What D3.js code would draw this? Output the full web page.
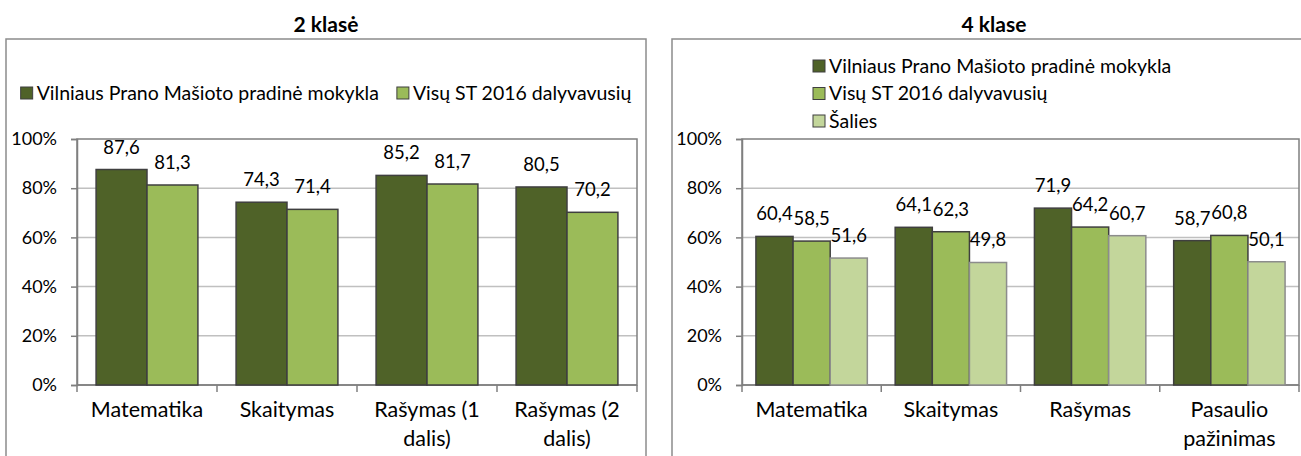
<!DOCTYPE html>
<html>
<head>
<meta charset="utf-8">
<script src="https://cdn.jsdelivr.net/npm/d3@7"></script>
<style>
  body { margin: 0; background: #fff; }
  svg { display: block; font-family: Lato, "Open Sans", sans-serif; }
</style>
</head>
<body>
<div id="svg_div"><svg width="1301" height="456"></svg></div>
<script>
// Chart data
var seriesNames = ["Vilniaus Prano Mašioto pradinė mokykla", "Visų ST 2016 dalyvavusių", "Šalies"];
var yTicks = [0, 20, 40, 60, 80, 100];

var title2 = "2 klasė";
var cats2 = ["Matematika", "Skaitymas", "Rašymas (1 dalis)", "Rašymas (2 dalis)"];
var school2 = [87.6, 74.3, 85.2, 80.5];
var all2 = [81.3, 71.4, 81.7, 70.2];

var title4 = "4 klase";
var cats4 = ["Matematika", "Skaitymas", "Rašymas", "Pasaulio pažinimas"];
var school4 = [60.4, 64.1, 71.9, 58.7];
var all4 = [58.5, 62.3, 64.2, 60.8];
var country4 = [51.6, 49.8, 60.7, 50.1];

var colors = ["#4f6228", "#9bbb59", "#c3d69b"];
var strokes = ["#3f3f3f", "#3f3f3f", "#8c8c8c"];

var svg = d3.select("#svg_div").select("svg");
svg.append("rect").attr("width", 1301).attr("height", 456).attr("fill", "#fff");

var ltLocale = d3.formatLocale({decimal: ",", thousands: " ", grouping: [3], currency: ["", ""]});
var valFormat = ltLocale.format(".1f");

// wrap category text into lines that fit the band
function wrap(text, width) {
    text.each(function() {
        var t = d3.select(this),
            words = t.text().split(/\s+/).reverse(),
            word, line = [], lineNo = 0,
            x = t.attr("x"), y = t.attr("y"),
            tspan = t.text(null).append("tspan").attr("x", x).attr("y", y);
        while ((word = words.pop())) {
            line.push(word);
            tspan.text(line.join(" "));
            if (tspan.node().getComputedTextLength() > width && line.length > 1) {
                line.pop();
                tspan.text(line.join(" "));
                line = [word];
                tspan = t.append("tspan").attr("x", x).attr("y", +y + (++lineNo) * 29).text(word);
            }
        }
    });
}

function drawPanel(opt) {
    var g = svg.append("g");

    // outer frame
    g.append("rect")
        .attr("x", opt.frame[0]).attr("y", 39)
        .attr("width", opt.frame[1] - opt.frame[0]).attr("height", 440)
        .attr("fill", "none").attr("stroke", "#8c8c8c").attr("stroke-width", 1.5);

    // title
    g.append("text")
        .attr("x", opt.titleX).attr("y", 32)
        .attr("text-anchor", "middle")
        .style("font-size", "21px").style("font-weight", "bold")
        .text(opt.title);

    var left = opt.plot[0], right = opt.plot[1], top = 139, bottom = 385;
    var keys = d3.range(opt.series.length);

    var x0 = d3.scaleBand().domain(opt.cats).range([left, right]).padding(0);
    var x1 = d3.scaleBand().domain(keys).range([0, x0.bandwidth()])
        .paddingInner(0).paddingOuter(0.375);
    var y = d3.scaleLinear().domain([0, 100]).range([bottom, top]);

    // gridlines
    g.append("g").selectAll("line")
        .data(yTicks.filter(function(d) { return d > 0 && d < 100; }))
        .enter().append("line")
        .attr("x1", left).attr("x2", right)
        .attr("y1", function(d) { return y(d); }).attr("y2", function(d) { return y(d); })
        .attr("stroke", "#c0c0c0").attr("stroke-width", 1.5);

    // plot area border
    g.append("rect")
        .attr("x", left).attr("y", top)
        .attr("width", right - left).attr("height", bottom - top)
        .attr("fill", "none").attr("stroke", "#7f7f7f").attr("stroke-width", 1.5);

    // y axis
    var yAxisG = g.append("g")
        .attr("transform", "translate(" + left + ",0)")
        .call(d3.axisLeft(y).tickValues(yTicks).tickSize(6).tickPadding(14)
            .tickFormat(function(d) { return d + "%"; }));
    yAxisG.select(".domain").attr("stroke", "#7f7f7f").attr("stroke-width", 1.5);
    yAxisG.selectAll(".tick line").attr("stroke", "#7f7f7f").attr("stroke-width", 1.5);
    yAxisG.selectAll(".tick text")
        .attr("fill", "#000").style("font-size", "18px").style("font-family", "Lato");

    // x axis category separators
    var bounds = opt.cats.map(function(c) { return x0(c); }).concat([right]);
    g.append("g").selectAll("line")
        .data(bounds).enter().append("line")
        .attr("x1", function(d) { return d; }).attr("x2", function(d) { return d; })
        .attr("y1", bottom).attr("y2", bottom + 7)
        .attr("stroke", "#7f7f7f").attr("stroke-width", 1.5);
    g.append("line")
        .attr("x1", left).attr("x2", right).attr("y1", bottom).attr("y2", bottom)
        .attr("stroke", "#7f7f7f").attr("stroke-width", 1.5);

    // category labels
    g.append("g").selectAll("text")
        .data(opt.cats).enter().append("text")
        .attr("x", function(d) { return x0(d) + x0.bandwidth() / 2; })
        .attr("y", 417)
        .attr("text-anchor", "middle")
        .style("font-size", "21.5px")
        .text(function(d) { return d; })
        .call(wrap, x0.bandwidth() - 8);

    // bars
    var groups = g.append("g").selectAll("g")
        .data(opt.cats).enter().append("g")
        .attr("transform", function(d) { return "translate(" + x0(d) + ",0)"; });

    groups.selectAll("rect")
        .data(function(c, i) { return keys.map(function(k) { return {k: k, v: opt.series[k][i]}; }); })
        .enter().append("rect")
        .attr("x", function(d) { return x1(d.k); })
        .attr("y", function(d) { return y(d.v); })
        .attr("width", x1.bandwidth())
        .attr("height", function(d) { return bottom - y(d.v); })
        .attr("fill", function(d) { return colors[d.k]; })
        .attr("stroke", function(d) { return strokes[d.k]; })
        .attr("stroke-width", 1.5);

    groups.selectAll("text")
        .data(function(c, i) { return keys.map(function(k) { return {k: k, v: opt.series[k][i]}; }); })
        .enter().append("text")
        .attr("x", function(d) { return x1(d.k) + x1.bandwidth() / 2; })
        .attr("y", function(d) { return y(d.v) - 16; })
        .attr("text-anchor", "middle")
        .style("font-size", "18.5px")
        .text(function(d) { return valFormat(d.v); });

    // legend
    var legend = g.append("g");
    var items = legend.selectAll("g")
        .data(keys).enter().append("g");
    items.append("rect")
        .attr("width", 12).attr("height", 12)
        .attr("fill", function(d) { return colors[d]; })
        .attr("stroke", strokes[0]).attr("stroke-width", 1);
    items.append("text")
        .attr("x", 16).attr("y", 6).attr("dy", "0.35em")
        .style("font-size", "19.5px")
        .text(function(d) { return seriesNames[d]; });

    if (opt.legendRow) {
        var widths = [];
        items.each(function() { widths.push(d3.select(this).select("text").node().getComputedTextLength() + 16); });
        var gap = 18;
        var total = d3.sum(widths) + gap * (widths.length - 1);
        var xPos = opt.titleX - total / 2;
        items.attr("transform", function(d, i) {
            var tx = xPos;
            xPos += widths[i] + gap;
            return "translate(" + tx + "," + 87 + ")";
        });
    } else {
        items.attr("transform", function(d, i) {
            return "translate(" + opt.legendX + "," + (60 + i * 27.5) + ")";
        });
    }
}

drawPanel({
    title: title2, titleX: 326, frame: [6, 646], plot: [77, 637],
    cats: cats2, series: [school2, all2], legendRow: true
});

drawPanel({
    title: title4, titleX: 994, frame: [672, 1316], plot: [742, 1299],
    cats: cats4, series: [school4, all4, country4], legendRow: false, legendX: 813
});
</script>
</body>
</html>
